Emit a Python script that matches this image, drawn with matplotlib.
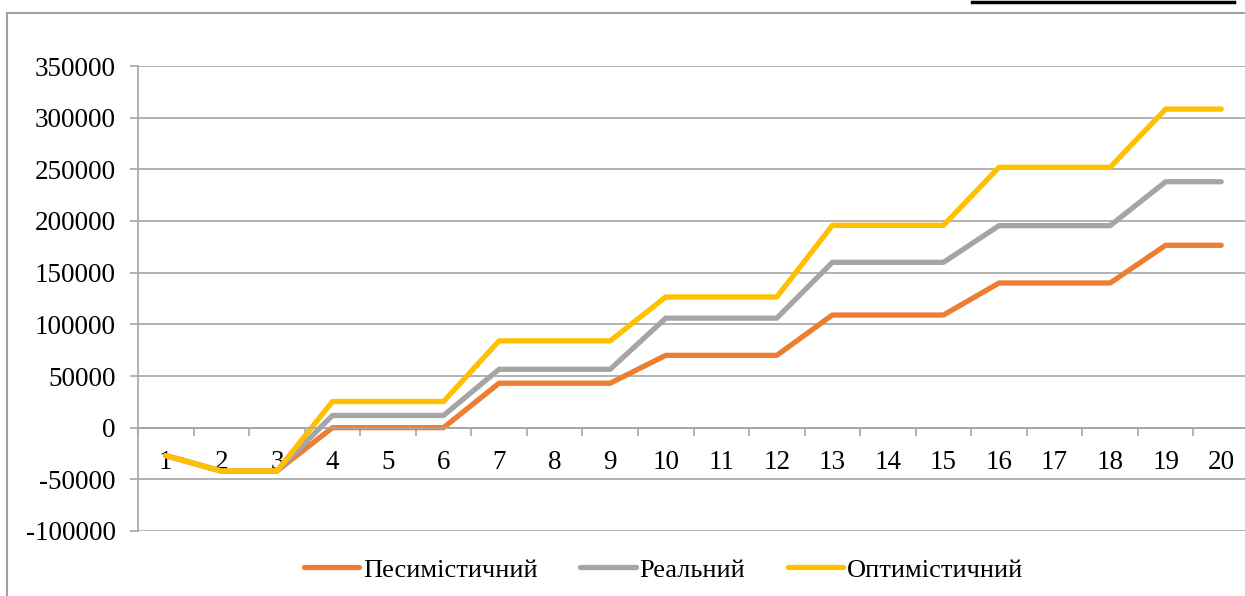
import matplotlib
matplotlib.use('Agg')
import matplotlib.pyplot as plt
from matplotlib.patches import Rectangle
from matplotlib.lines import Line2D

plt.rcParams['font.family'] = ['Liberation Serif', 'DejaVu Serif']

years = list(range(1, 21))
pesym = [-27000, -42000, -42000, 0, 0, 0, 43000, 43000, 43000, 70000, 70000, 70000,
         109000, 109000, 109000, 140000, 140000, 140000, 176500, 176500]
realn = [-27000, -42000, -42000, 11800, 11800, 11800, 56500, 56500, 56500, 106000, 106000, 106000,
         160000, 160000, 160000, 195500, 195500, 195500, 238000, 238000]
optym = [-27000, -42000, -42000, 25300, 25300, 25300, 84000, 84000, 84000, 126500, 126500, 126500,
         195800, 195800, 195800, 252000, 252000, 252000, 308300, 308300]
names = ['Песимістичний', 'Реальний', 'Оптимістичний']
colors = ['#ED7D31', '#A5A5A5', '#FFC000']
yticks = list(range(-100000, 350001, 50000))

W, H = 1245, 596
fig = plt.figure(figsize=(W / 100, H / 100), dpi=100)
ax = fig.add_axes([138 / W, (H - 531) / H, 1111 / W, 465 / H])

grid_c = '#A6A6A6'
for vals, name, c in zip([pesym, realn, optym], names, colors):
    ax.plot(years, vals, color=c, lw=3.8, label=name,
            solid_capstyle='round', solid_joinstyle='round')

ax.set_xlim(0.5, 20.5)
ax.set_ylim(-100000, 350000)
ax.set_yticks(yticks)
ax.set_yticklabels([str(v) for v in yticks])
ax.yaxis.grid(True, color=grid_c, lw=1.2)
ax.set_axisbelow(True)

for s in ['top', 'right']:
    ax.spines[s].set_visible(False)
ax.spines['left'].set_color(grid_c)
ax.spines['left'].set_linewidth(1.2)
ax.spines['bottom'].set_position(('data', 0))
ax.spines['bottom'].set_color(grid_c)
ax.spines['bottom'].set_linewidth(1.2)

ax.set_xticks(years)
ax.set_xticklabels([str(y) for y in years])
ax.set_xticks([y + 0.5 for y in range(0, 21)], minor=True)
ax.tick_params(axis='x', which='major', length=0, pad=16, labelsize=19.5)
ax.tick_params(axis='x', which='minor', length=6, color=grid_c, width=1.2, direction='out')
ax.tick_params(axis='y', length=6, color=grid_c, width=1.2, pad=10, labelsize=19.5)

fig.legend(loc='center', bbox_to_anchor=(0.533, 0.044), ncol=3, frameon=False,
           fontsize=19, handlelength=2.1, handletextpad=0.15, columnspacing=1.6)

# outer chart frame and top line
fig.patches.append(Rectangle((7 / W, -0.1), 1.1, (H - 13) / H + 0.1, transform=fig.transFigure,
                             fill=False, edgecolor='#A0A0A0', lw=1.5, clip_on=False))
fig.lines.append(Line2D([972 / W, 1234 / W], [1 - 1.5 / H, 1 - 1.5 / H], transform=fig.transFigure,
                        color='black', lw=2.5))

fig.savefig('out.png', dpi=100)
